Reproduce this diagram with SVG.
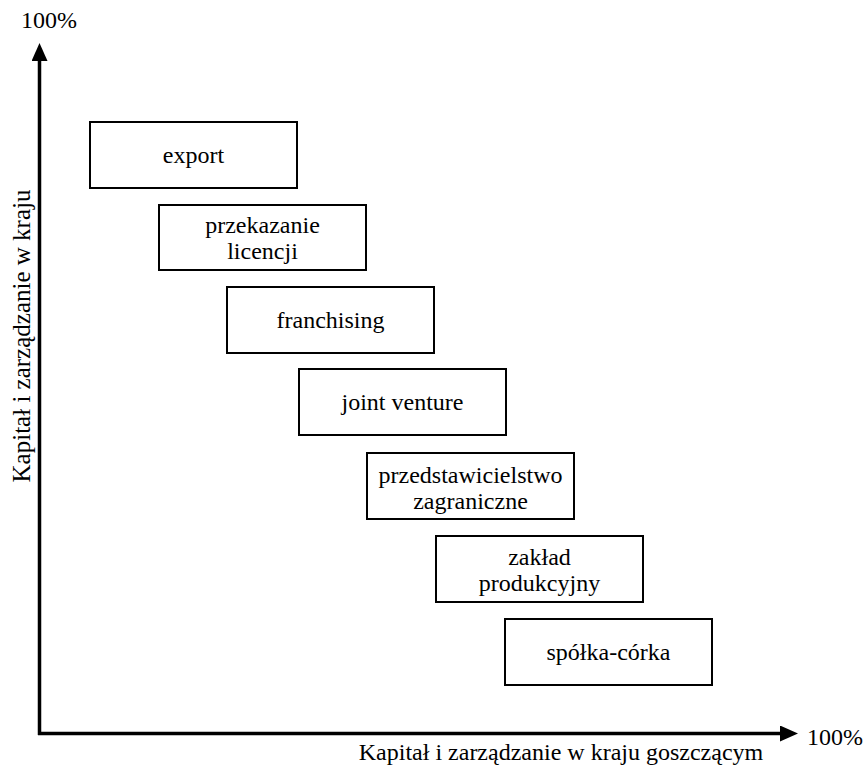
<svg xmlns="http://www.w3.org/2000/svg" width="863" height="767" viewBox="0 0 863 767" font-family="'Liberation Serif', 'Times New Roman', serif" font-size="24">
<style>
.box{fill:#fff;stroke:#000;stroke-width:2}
text{font-family:"Liberation Serif","Times New Roman",serif;font-size:24px;fill:#000}
.c{text-anchor:middle}
.axis{stroke:#000;stroke-width:3.5;fill:none}
</style>
<defs>
<marker id="ah" viewBox="0 0 18 16" refX="0" refY="8" markerWidth="18" markerHeight="16" markerUnits="userSpaceOnUse" orient="auto">
<path d="M0,0 L18,8 L0,16 Z" fill="#000"/>
</marker>
</defs>
<rect width="863" height="767" fill="#fff"/>
<g id="connectors">
<path class="axis" d="M39.5,735 L39.5,61" marker-end="url(#ah)"/>
<path class="axis" d="M38,733.5 L780,733.5" marker-end="url(#ah)"/>
</g>
<g id="labels">
<text x="21" y="28">100%</text>
<text x="807" y="745">100%</text>
<text class="c" x="561" y="760">Kapitał i zarządzanie w kraju goszczącym</text>
<text class="c" transform="translate(30,336) rotate(-90)" style="font-size:25px">Kapitał i zarządzanie w kraju</text>
</g>
<g id="nodes">
<g id="export"><rect class="box" x="90" y="122" width="207" height="66"/><text class="c" x="193.5" y="163">export</text></g>
<g id="licencja"><rect class="box" x="159" y="205" width="207" height="65"/><text class="c" x="262.5" y="233">przekazanie</text><text class="c" x="262.5" y="259">licencji</text></g>
<g id="franchising"><rect class="box" x="227" y="287" width="207" height="66"/><text class="c" x="330.5" y="328">franchising</text></g>
<g id="jointventure"><rect class="box" x="299" y="369" width="207" height="66"/><text class="c" x="402.5" y="410">joint venture</text></g>
<g id="przedstawicielstwo"><rect class="box" x="367" y="453" width="207" height="66"/><text class="c" x="470.5" y="483">przedstawicielstwo</text><text class="c" x="470.5" y="509">zagraniczne</text></g>
<g id="zaklad"><rect class="box" x="436" y="536" width="207" height="66"/><text class="c" x="539.5" y="565">zakład</text><text class="c" x="539.5" y="591">produkcyjny</text></g>
<g id="spolka"><rect class="box" x="505" y="619" width="207" height="66"/><text class="c" x="608.5" y="660">spółka-córka</text></g>
</g>
</svg>
